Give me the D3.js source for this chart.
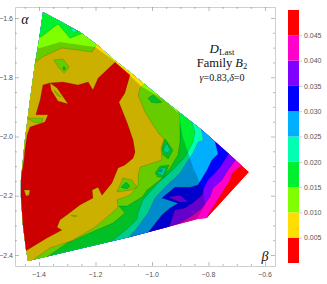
<!DOCTYPE html>
<html>
<head>
<meta charset="utf-8">
<script src="https://d3js.org/d3.v7.min.js"></script>
<style>
body { margin: 0; background: #fff; }
svg { display: block; }
.band { stroke: rgba(0,0,0,0.3); stroke-width: 0.5; }
.tick-label { font: 7px "Liberation Sans", sans-serif; fill: #555; }
.note { font-family: "Liberation Serif", serif; fill: #111; text-anchor: middle; }
</style>
</head>
<body>
<div id="chart"></div>
<script>
// colour levels, bottom of the bar to the top
var levels = [0, 0.005, 0.01, 0.015, 0.02, 0.025, 0.03, 0.035, 0.04, 0.045, 0.05];
var levelColors = ["#ff0000", "#ffdd00", "#80ff00", "#00f030", "#00ffb0", "#00b0ff", "#0000ff", "#8000ff", "#ff00cc", "#ff0000"];
var levelLabels = ["0.005", "0.010", "0.015", "0.020", "0.025", "0.030", "0.035", "0.040", "0.045"];
var betaTicks = [-1.4, -1.2, -1.0, -0.8, -0.6];
var alphaTicks = [-1.6, -1.8, -2.0, -2.2, -2.4];

// outline of the region in (beta, alpha)
var region = [[-1.386,-1.580],[-1.326,-1.610],[-1.255,-1.647],[-1.184,-1.698],[-1.138,-1.738],[-1.078,-1.782],[-0.954,-1.880],[-0.823,-1.978],[-0.742,-2.046],[-0.656,-2.120],[-0.805,-2.275],[-0.841,-2.279],[-0.947,-2.306],[-1.078,-2.339],[-1.439,-2.420],[-1.446,-2.383],[-1.457,-2.299],[-1.464,-2.204],[-1.464,-2.147],[-1.457,-2.079],[-1.450,-2.012],[-1.432,-1.877],[-1.414,-1.752],[-1.400,-1.674]];

// contour lines, each is where D drops under that level
var under045 = [[-0.671,-2.090],[-0.713,-2.120],[-0.724,-2.147],[-0.752,-2.191],[-0.802,-2.265],[-0.809,-2.289]];
var under040 = [[-0.699,-2.073],[-0.731,-2.113],[-0.752,-2.147],[-0.784,-2.174],[-0.795,-2.204],[-0.823,-2.241],[-0.855,-2.265],[-0.901,-2.292]];
var under035 = [[-0.724,-2.052],[-0.759,-2.103],[-0.777,-2.123],[-0.802,-2.147],[-0.816,-2.174],[-0.823,-2.198],[-0.858,-2.225],[-0.883,-2.241],[-0.919,-2.248],[-0.929,-2.275],[-0.940,-2.309]];
var under030 = [[-0.780,-2.005],[-0.766,-2.059],[-0.788,-2.079],[-0.805,-2.113],[-0.837,-2.164],[-0.865,-2.171],[-0.919,-2.171],[-0.965,-2.208],[-0.908,-2.225],[-0.936,-2.241],[-0.965,-2.265],[-1.021,-2.333]];
var under025 = [[-0.826,-1.971],[-0.819,-2.012],[-0.837,-2.019],[-0.855,-2.056],[-0.901,-2.123],[-0.926,-2.147],[-0.954,-2.171],[-0.989,-2.208],[-1.014,-2.258],[-1.053,-2.309],[-1.088,-2.346]];
var under020 = [[-0.862,-1.941],[-0.848,-1.985],[-0.855,-2.019],[-0.883,-2.069],[-0.926,-2.113],[-0.979,-2.157],[-1.032,-2.214],[-1.049,-2.255],[-1.053,-2.279],[-1.085,-2.309],[-1.142,-2.353]];
var under015 = [[-1.403,-2.424],[-1.368,-2.404],[-1.301,-2.360],[-1.212,-2.322],[-1.138,-2.292],[-1.096,-2.258],[-1.117,-2.235],[-1.088,-2.235],[-1.035,-2.204],[-1.018,-2.181],[-0.972,-2.147],[-0.936,-2.106],[-0.908,-2.062],[-0.901,-2.019],[-0.901,-1.951],[-0.908,-1.907],[-0.915,-1.897],[-1.248,-1.641],[-1.244,-1.651],[-1.290,-1.668],[-1.333,-1.620],[-1.393,-1.664],[-1.55,-1.664],[-1.55,-2.5]];
var under010 = [[-1.432,-2.424],[-1.361,-2.376],[-1.280,-2.350],[-1.202,-2.306],[-1.142,-2.258],[-1.120,-2.238],[-1.124,-2.214],[-1.078,-2.198],[-1.064,-2.181],[-1.049,-2.164],[-1.049,-2.130],[-1.042,-2.103],[-0.965,-2.079],[-0.968,-2.039],[-0.957,-2.008],[-0.972,-1.995],[-0.996,-1.961],[-1.025,-1.917],[-1.049,-1.860],[-1.042,-1.836],[-1.021,-1.819],[-1.195,-1.688],[-1.202,-1.698],[-1.212,-1.715],[-1.319,-1.701],[-1.389,-1.732],[-1.414,-1.752],[-1.55,-1.752],[-1.55,-2.5]];
var under005 = [[-1.386,-1.826],[-1.361,-1.819],[-1.315,-1.816],[-1.262,-1.826],[-1.226,-1.816],[-1.209,-1.843],[-1.191,-1.803],[-1.131,-1.749],[-1.078,-1.792],[-1.096,-1.853],[-1.117,-1.884],[-1.088,-1.954],[-1.067,-2.012],[-1.060,-2.052],[-1.067,-2.073],[-1.096,-2.096],[-1.120,-2.106],[-1.142,-2.157],[-1.177,-2.198],[-1.191,-2.171],[-1.212,-2.181],[-1.209,-2.208],[-1.255,-2.231],[-1.297,-2.262],[-1.326,-2.282],[-1.336,-2.306],[-1.319,-2.316],[-1.372,-2.343],[-1.453,-2.390],[-1.485,-2.350],[-1.485,-2.123],[-1.460,-2.120],[-1.453,-2.079],[-1.450,-2.046],[-1.442,-1.995],[-1.432,-1.968],[-1.379,-1.951],[-1.368,-1.927],[-1.411,-1.927],[-1.396,-1.877]];

// closed off past the region so that the clip trims them
var pastRegion = [[-1.55,-2.5],[-1.55,-1.5],[-0.9,-1.5]];

// small islands, level index says the colour
var islands = [
  { level: 7, pts: [[-0.943,-2.204],[-0.901,-2.198],[-0.872,-2.221],[-0.901,-2.221]] },
  { level: 1, pts: [[-1.361,-1.819],[-1.336,-1.836],[-1.297,-1.890],[-1.333,-1.880],[-1.357,-1.843]] },
  { level: 1, pts: [[-1.453,-2.181],[-1.432,-2.181],[-1.435,-2.198],[-1.446,-2.201]] },
  { level: 2, pts: [[-1.347,-1.843],[-1.322,-1.867],[-1.336,-1.860]] },
  { level: 2, pts: [[-1.442,-1.938],[-1.386,-1.938],[-1.389,-1.951],[-1.414,-1.954]] },
  { level: 2, pts: [[-1.347,-1.742],[-1.315,-1.738],[-1.294,-1.765],[-1.311,-1.786],[-1.329,-1.769]] },
  { level: 3, pts: [[-1.315,-1.765],[-1.308,-1.765],[-1.308,-1.775],[-1.315,-1.775]] },
  { level: 2, pts: [[-1.124,-2.187],[-1.103,-2.140],[-1.071,-2.147],[-1.053,-2.171],[-1.078,-2.181]] },
  { level: 3, pts: [[-1.110,-2.171],[-1.092,-2.154],[-1.078,-2.167],[-1.088,-2.177]] },
  { level: 2, pts: [[-1.287,-2.265],[-1.265,-2.268],[-1.276,-2.272]] },
  { level: 3, pts: [[-1.014,-1.870],[-0.996,-1.860],[-0.965,-1.884],[-0.982,-1.887],[-1.003,-1.884]] },
  { level: 3, pts: [[-0.965,-2.039],[-0.954,-2.008],[-0.926,-2.046],[-0.943,-2.076],[-0.961,-2.062]] },
  { level: 4, pts: [[-0.961,-2.046],[-0.947,-2.022],[-0.936,-2.046],[-0.947,-2.056]] },
  { level: 3, pts: [[-0.989,-2.123],[-0.972,-2.100],[-0.940,-2.096],[-0.957,-2.137],[-0.979,-2.137]] },
  { level: 4, pts: [[-0.982,-2.123],[-0.968,-2.106],[-0.950,-2.106],[-0.961,-2.133]] },
  { level: 5, pts: [[-0.975,-2.117],[-0.965,-2.110],[-0.965,-2.120],[-0.972,-2.120]] },
  { level: 4, pts: [[-1.290,-1.634],[-1.276,-1.637],[-1.262,-1.647],[-1.280,-1.647]] }
];

// the darker left part of the surface
var shade = [[-1.55,-1.708],[-1.396,-1.701],[-1.326,-1.681],[-1.202,-1.698],[-1.138,-1.742],[-1.035,-1.833],[-0.954,-1.877],[-0.908,-1.921],[-0.890,-2.005],[-0.855,-2.103],[-0.819,-2.181],[-0.812,-2.231],[-0.848,-2.289],[-0.848,-2.5],[-1.55,-2.5]];

var width = 327, height = 284;
var left = 15, right = 275, top_ = 7, bottom = 266;

var x = d3.scaleLinear().domain([-1.4, -0.6]).range([39, 265]);
var y = d3.scaleLinear().domain([-1.6, -2.4]).range([18, 255]);
var barY = d3.scaleLinear().domain([0, 0.05]).range([263, 10]);

var svg = d3.select("#chart").append("svg").attr("width", width).attr("height", height);

var line = d3.line().x(function(d) { return x(d[0]); }).y(function(d) { return y(d[1]); });
function closed(pts) { return line(pts) + "Z"; }

svg.append("clipPath").attr("id", "regionClip").append("path").attr("d", closed(region));

var plot = svg.append("g").attr("clip-path", "url(#regionClip)");

plot.append("path").attr("d", closed(region)).attr("fill", levelColors[9]);

// paint from the highest level down
var nested = [
  { level: 8, pts: under045.concat(pastRegion) },
  { level: 7, pts: under040.concat(pastRegion) },
  { level: 6, pts: under035.concat(pastRegion) },
  { level: 5, pts: under030.concat(pastRegion) },
  { level: 4, pts: under025.concat(pastRegion) },
  { level: 3, pts: under020.concat(pastRegion) },
  { level: 2, pts: under015 },
  { level: 1, pts: under010 },
  { level: 0, pts: under005 }
];
plot.selectAll(".band").data(nested).enter().append("path")
  .attr("class", "band")
  .attr("d", function(d) { return closed(d.pts); })
  .attr("fill", function(d) { return levelColors[d.level]; });

plot.selectAll(".island").data(islands).enter().append("path")
  .attr("class", "band island")
  .attr("d", function(d) { return closed(d.pts); })
  .attr("fill", function(d) { return levelColors[d.level]; });

plot.append("path").attr("d", closed(shade)).attr("fill", "#000").attr("opacity", 0.2);

// frame with ticks on all four sides, long ones on the labelled values
var betaAll = d3.range(-29, -10).map(function(i) { return i * 0.05; }).filter(function(v) { return x(v) > left + 1 && x(v) < right - 1; });
var alphaAll = d3.range(-50, -29).map(function(i) { return i * 0.05; }).filter(function(v) { return y(v) > top_ + 1 && y(v) < bottom - 1; });

function isMajor(v, list) { return list.some(function(t) { return Math.abs(t - v) < 1e-6; }); }
function drawSide(axis, tx, ty, list, attr, sign) {
  var g = svg.append("g").attr("transform", "translate(" + tx + "," + ty + ")").call(axis);
  g.select(".domain").attr("stroke", "#cfcfcf").attr("stroke-width", 1);
  g.selectAll(".tick line").attr("stroke", "#777").attr("stroke-width", 0.5)
    .attr(attr, function(d) { return sign * (isMajor(d, list) ? 4 : 2); });
  g.selectAll("text").remove();
}
var xFull = d3.scaleLinear().domain([x.invert(left), x.invert(right)]).range([left, right]);
var yFull = d3.scaleLinear().domain([y.invert(top_), y.invert(bottom)]).range([top_, bottom]);

drawSide(d3.axisBottom(xFull).tickValues(betaAll).tickSizeOuter(0), 0, bottom, betaTicks, "y2", -1);
drawSide(d3.axisTop(xFull).tickValues(betaAll).tickSizeOuter(0), 0, top_, betaTicks, "y2", 1);
drawSide(d3.axisLeft(yFull).tickValues(alphaAll).tickSizeOuter(0), left, 0, alphaTicks, "x2", 1);
drawSide(d3.axisRight(yFull).tickValues(alphaAll).tickSizeOuter(0), right, 0, alphaTicks, "x2", -1);

svg.selectAll(".beta-label").data(betaTicks).enter().append("text")
  .attr("class", "tick-label")
  .attr("x", function(d) { return x(d); })
  .attr("y", 277)
  .attr("text-anchor", "middle")
  .text(function(d) { return "\u2212" + Math.abs(d).toFixed(1); });

svg.selectAll(".alpha-label").data(alphaTicks).enter().append("text")
  .attr("class", "tick-label")
  .attr("x", 13)
  .attr("y", function(d) { return y(d) + 2.5; })
  .attr("text-anchor", "end")
  .text(function(d) { return "\u2212" + Math.abs(d).toFixed(1); });

// axis letters and the title block
svg.append("text").attr("class", "note").attr("x", 25).attr("y", 24).attr("font-size", 14).attr("font-style", "italic").text("\u03b1");
svg.append("text").attr("class", "note").attr("x", 265).attr("y", 261).attr("font-size", 14).attr("font-style", "italic").text("\u03b2");

var t1 = svg.append("text").attr("class", "note").attr("x", 222).attr("y", 53).attr("font-size", 13);
t1.append("tspan").attr("font-style", "italic").text("D");
t1.append("tspan").attr("font-size", 9).attr("dy", 2).text("Last");
var t2 = svg.append("text").attr("class", "note").attr("x", 222).attr("y", 67).attr("font-size", 12.5);
t2.append("tspan").text("Family ");
t2.append("tspan").attr("font-style", "italic").text("B");
t2.append("tspan").attr("font-size", 8.5).attr("dy", 2).text("2");
var t3 = svg.append("text").attr("class", "note").attr("x", 222).attr("y", 81).attr("font-size", 10);
t3.append("tspan").attr("font-style", "italic").text("\u03b3");
t3.append("tspan").text("=0.83,");
t3.append("tspan").attr("font-style", "italic").text("\u03b4");
t3.append("tspan").text("=0");

// colour bar
svg.selectAll(".bar-cell").data(levelColors).enter().append("rect")
  .attr("class", "bar-cell")
  .attr("x", 288)
  .attr("width", 11)
  .attr("y", function(d, i) { return barY(levels[i + 1]); })
  .attr("height", function(d, i) { return barY(levels[i]) - barY(levels[i + 1]); })
  .attr("fill", function(d) { return d; });

var barAxis = d3.axisRight(barY).tickValues(levels.slice(1, 10)).tickSize(3).tickFormat(function(d, i) { return levelLabels[i]; });
var barG = svg.append("g").attr("transform", "translate(299,0)").call(barAxis);
barG.select(".domain").remove();
barG.selectAll(".tick line").attr("stroke", "#999").attr("stroke-width", 0.5);
barG.selectAll("text").attr("class", "tick-label").attr("x", 5).attr("dy", "0.32em");
</script>
</body>
</html>
